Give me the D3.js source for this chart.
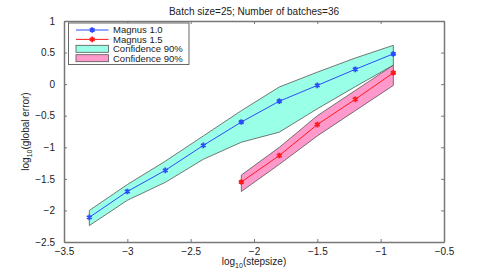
<!DOCTYPE html>
<html>
<head>
<meta charset="utf-8">
<script src="https://cdn.jsdelivr.net/npm/d3@7"></script>
<style>
  body { margin: 0; background: #fff; }
  svg { font-family: "Liberation Sans", Arial, sans-serif; }
</style>
</head>
<body>
<div id="chart"></div>
<script>
// log10(stepsize)
const steps1 = [-3.3, -3.0, -2.7, -2.4, -2.1, -1.8, -1.5, -1.2, -0.9];
const magnus10 = [-2.11, -1.70, -1.365, -0.97, -0.60, -0.27, -0.02, 0.235, 0.48];
const upper10 = [-2.00, -1.59, -1.22, -0.82, -0.42, -0.045, 0.19, 0.414, 0.615];
const lower10 = [-2.24, -1.84, -1.555, -1.19, -0.92, -0.76, -0.39, -0.04, 0.30];

const steps2 = [-2.1, -1.8, -1.5, -1.2, -0.9];
const magnus15 = [-1.55, -1.13, -0.64, -0.24, 0.18];
const upper15 = [-1.44, -1.00, -0.50, -0.10, 0.30];
const lower15 = [-1.70, -1.27, -0.82, -0.42, -0.02];

const xTicks = [-3.5, -3, -2.5, -2, -1.5, -1, -0.5];
const yTicks = [-2.5, -2, -1.5, -1, -0.5, 0, 0.5, 1];
const legendLabels = ["Magnus 1.0", "Magnus 1.5", "Confidence 90%", "Confidence 90%"];

const width = 491, height = 273;
const margin = { left: 64, right: 47, top: 21, bottom: 31 };
const iw = width - margin.left - margin.right;
const ih = height - margin.top - margin.bottom;

const svg = d3.select("#chart").append("svg")
    .attr("width", width)
    .attr("height", height);

const g = svg.append("g").attr("transform", `translate(${margin.left},${margin.top})`);

const x = d3.scaleLinear().domain([-3.5, -0.5]).range([0, iw]);
const y = d3.scaleLinear().domain([-2.5, 1]).range([ih, 0]);

const fmt = d => String(d).replace("-", "\u2212");

// Bands
function band(steps, lo, hi) {
    const pts = steps.map((s, i) => [x(s), y(hi[i])])
        .concat(steps.map((s, i) => [x(s), y(lo[i])]).reverse());
    return "M" + pts.map(p => p.join(",")).join("L") + "Z";
}

g.append("path")
    .attr("d", band(steps1, lower10, upper10))
    .attr("fill", "#99ffe6")
    .attr("stroke", "#555")
    .attr("stroke-width", 0.8);

g.append("path")
    .attr("d", band(steps2, lower15, upper15))
    .attr("fill", "#ff99cc")
    .attr("stroke", "#555")
    .attr("stroke-width", 0.8);

// Lines
const line = d3.line().x(d => x(d[0])).y(d => y(d[1]));

function series(steps, vals, color) {
    const data = steps.map((s, i) => [s, vals[i]]);
    g.append("path")
        .attr("d", line(data))
        .attr("fill", "none")
        .attr("stroke", color)
        .attr("stroke-width", 1);
    g.selectAll(null).data(data).join("path")
        .attr("transform", d => `translate(${x(d[0])},${y(d[1])})`)
        .attr("d", d3.symbol(d3.symbolAsterisk, 22)())
        .attr("fill", "none")
        .attr("stroke", color)
        .attr("stroke-width", 1.8);
}
series(steps1, magnus10, "#2b4cff");
series(steps2, magnus15, "#ff1a1a");

// Axes box and ticks
const axisColor = "#777";
const tickLen = 3;
const axBottom = g.append("g").attr("transform", `translate(0,${ih})`)
    .call(d3.axisBottom(x).tickValues(xTicks).tickSizeInner(-tickLen).tickSizeOuter(0).tickPadding(6).tickFormat(fmt));
const axLeft = g.append("g")
    .call(d3.axisLeft(y).tickValues(yTicks).tickSizeInner(-tickLen).tickSizeOuter(0).tickPadding(9).tickFormat(fmt));
const axTop = g.append("g")
    .call(d3.axisTop(x).tickValues(xTicks).tickSizeInner(-tickLen).tickSizeOuter(0).tickFormat(""));
const axRight = g.append("g").attr("transform", `translate(${iw},0)`)
    .call(d3.axisRight(y).tickValues(yTicks).tickSizeInner(-tickLen).tickSizeOuter(0).tickFormat(""));

[axBottom, axLeft, axTop, axRight].forEach(a => {
    a.select(".domain").attr("stroke", axisColor).attr("stroke-width", 1.5);
    a.selectAll(".tick line").attr("stroke", axisColor);
    a.selectAll("text").attr("fill", "#222").style("font-size", "10px")
        .style("font-family", "Liberation Sans, Arial, sans-serif");
});

// Title
svg.append("text")
    .attr("x", margin.left + iw / 2)
    .attr("y", 15)
    .attr("text-anchor", "middle")
    .attr("fill", "#222")
    .style("font-size", "10px")
    .text("Batch size=25; Number of batches=36");

// Axis labels
const xl = svg.append("text")
    .attr("x", margin.left + iw / 2)
    .attr("y", 265)
    .attr("text-anchor", "middle")
    .attr("fill", "#222")
    .style("font-size", "10px");
xl.append("tspan").text("log");
xl.append("tspan").attr("dy", 3).style("font-size", "7px").text("10");
xl.append("tspan").attr("dy", -3).text("(stepsize)");

const yl = svg.append("text")
    .attr("transform", `translate(29,${margin.top + ih / 2}) rotate(-90)`)
    .attr("text-anchor", "middle")
    .attr("fill", "#222")
    .style("font-size", "10px");
yl.append("tspan").text("log");
yl.append("tspan").attr("dy", 3).style("font-size", "7px").text("10");
yl.append("tspan").attr("dy", -3).text("(global error)");

// Legend
const lg = svg.append("g").attr("transform", "translate(68.5,23)");
lg.append("rect")
    .attr("width", 120.5).attr("height", 41.5)
    .attr("fill", "#fff")
    .attr("stroke", "#444")
    .attr("stroke-width", 0.8);

const legendStyles = [
    { type: "line", color: "#2b4cff" },
    { type: "line", color: "#ff1a1a" },
    { type: "patch", color: "#99ffe6" },
    { type: "patch", color: "#ff99cc" }
];

legendLabels.forEach((lab, i) => {
    const row = lg.append("g").attr("transform", `translate(0,${7 + i * 9.4})`);
    const st = legendStyles[i];
    if (st.type === "line") {
        row.append("line").attr("x1", 7.5).attr("x2", 40).attr("y1", 0).attr("y2", 0)
            .attr("stroke", st.color).attr("stroke-width", 1);
        row.append("path").attr("transform", "translate(23.7,0)")
            .attr("d", d3.symbol(d3.symbolAsterisk, 22)())
            .attr("fill", "none").attr("stroke", st.color).attr("stroke-width", 1.8);
    } else {
        row.append("rect").attr("x", 7.5).attr("y", -3.5).attr("width", 32.5).attr("height", 7)
            .attr("fill", st.color).attr("stroke", "#555").attr("stroke-width", 0.8);
    }
    row.append("text").attr("x", 44.5).attr("y", 3.3)
        .attr("fill", "#222").style("font-size", "9.5px").text(lab);
});
</script>
</body>
</html>
